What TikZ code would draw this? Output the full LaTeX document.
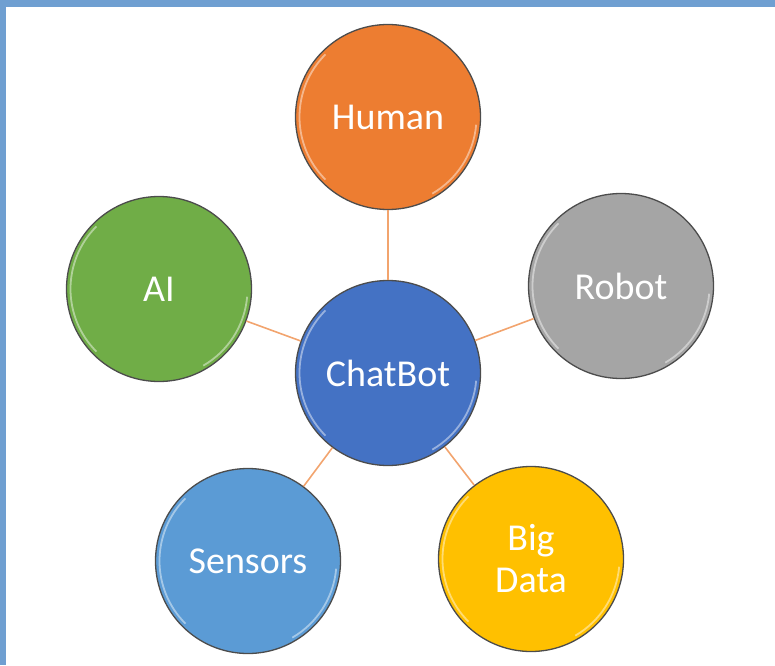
\documentclass[tikz,border=0pt]{standalone}
\usepackage{fontspec}
\setmainfont{Carlito}
\usetikzlibrary{positioning}
\definecolor{frameblue}{HTML}{6F9FD1}
\definecolor{linkorange}{HTML}{F2A46E}
\definecolor{humanorange}{HTML}{ED7D31}
\definecolor{aigreen}{HTML}{70AD47}
\definecolor{robotgrey}{HTML}{A5A5A5}
\definecolor{chatblue}{HTML}{4472C4}
\definecolor{sensorblue}{HTML}{5B9BD5}
\definecolor{datayellow}{HTML}{FFC000}
\tikzset{
  bubble/.style={circle, draw=black!70, line width=1.3pt, minimum size=185pt,
    inner sep=0pt, text=white, align=center,
    font=\fontsize{38}{42}\selectfont,
    path picture={
      \draw[white, opacity=.45, line width=1.8pt]
        (path picture bounding box.center) ++(135:88.5pt) arc[start angle=135, end angle=225, radius=88.5pt];
      \draw[white, opacity=.45, line width=1.8pt]
        (path picture bounding box.center) ++(-60:88.5pt) arc[start angle=-60, end angle=-5, radius=88.5pt];
    }},
  link/.style={linkorange, line width=1.6pt}
}

\begin{document}
\begin{tikzpicture}[x=1pt, y=1pt, node distance=80pt, on grid]
  \useasboundingbox (0,0) rectangle (775,665);
  \fill[frameblue] (0,658) rectangle (775,665);
  \fill[frameblue] (0,0) rectangle (6,665);

  \node[bubble,fill=chatblue] (chatbot) at (388,292) {ChatBot};
  \node[bubble,fill=humanorange] (human) [above=256pt of chatbot] {Human};
  \node[bubble,fill=aigreen] (ai) [above left=84pt and 229pt of chatbot] {AI};
  \node[bubble,fill=robotgrey] (robot) [above right=87pt and 233pt of chatbot] {Robot};
  \node[bubble,fill=sensorblue] (sensors) [below left=188pt and 140pt of chatbot] {Sensors};
  \node[bubble,fill=datayellow] (bigdata) [below right=186pt and 143pt of chatbot] {Big\\Data};

  \draw[link] (chatbot) -- (human);
  \draw[link] (chatbot) -- (ai);
  \draw[link] (chatbot) -- (robot);
  \draw[link] (chatbot) -- (sensors);
  \draw[link] (chatbot) -- (bigdata);
\end{tikzpicture}
\end{document}
